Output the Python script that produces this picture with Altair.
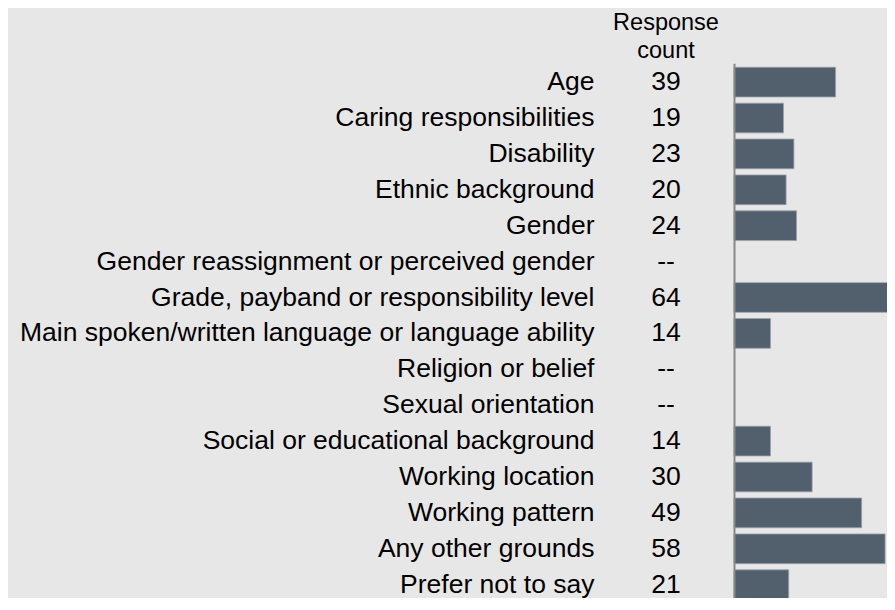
import altair as alt
import pandas as pd

categories = [
    "Age",
    "Caring responsibilities",
    "Disability",
    "Ethnic background",
    "Gender",
    "Gender reassignment or perceived gender",
    "Grade, payband or responsibility level",
    "Main spoken/written language or language ability",
    "Religion or belief",
    "Sexual orientation",
    "Social or educational background",
    "Working location",
    "Working pattern",
    "Any other grounds",
    "Prefer not to say",
]
counts = [39, 19, 23, 20, 24, None, 64, 14, None, None, 14, 30, 49, 58, 21]

df = pd.DataFrame({
    "category": categories,
    "count": counts,
    "label": [("--" if c is None else str(c)) for c in counts],
})

FONT = "Liberation Sans"
BG = "#e7e7e7"

y_enc = alt.Y(
    "category:N",
    sort=categories,
    scale=alt.Scale(paddingInner=0.172, paddingOuter=0.11, range=[0, 540.2]),
    axis=alt.Axis(
        title=None,
        ticks=False,
        grid=False,
        domain=True,
        domainColor="#888888",
        domainWidth=2,
        labelFont=FONT,
        labelFontSize=26.5,
        labelColor="#000000",
        labelPadding=140,
        labelLimit=1000,
        zindex=1,
    ),
)

bars = alt.Chart(df).mark_bar(
    color="#525f6c", stroke="#9aa3ab", strokeWidth=0.8
).encode(
    x=alt.X("count:Q", scale=alt.Scale(domain=[0, 61.8], range=[0, 161], nice=False, zero=True), axis=None),
    y=y_enc,
)

count_text = alt.Chart(df).mark_text(
    font=FONT, fontSize=26.5, align="center", baseline="middle", color="#000000"
).encode(
    x=alt.value(-68),
    y=alt.Y("category:N", sort=categories),
    text="label:N",
)

header = alt.Chart(pd.DataFrame({"h": ["Response count"]})).mark_text(
    font=FONT, fontSize=23.5, align="center", baseline="alphabetic",
    color="#000000", lineBreak=" ", lineHeight=28,
).encode(
    x=alt.value(-68),
    y=alt.value(-33.3),
    text="h:N",
)

chart = alt.layer(bars, count_text, header).properties(
    width=153,
    height=534.7,
    padding={"left": 726, "top": 55.3, "right": 0, "bottom": 0},
    autosize=alt.AutoSizeParams(type="none"),
    background=BG,
).configure_view(stroke=None, fill=BG)

chart.save("out.html", embed_options={"renderer": "svg", "actions": False})
